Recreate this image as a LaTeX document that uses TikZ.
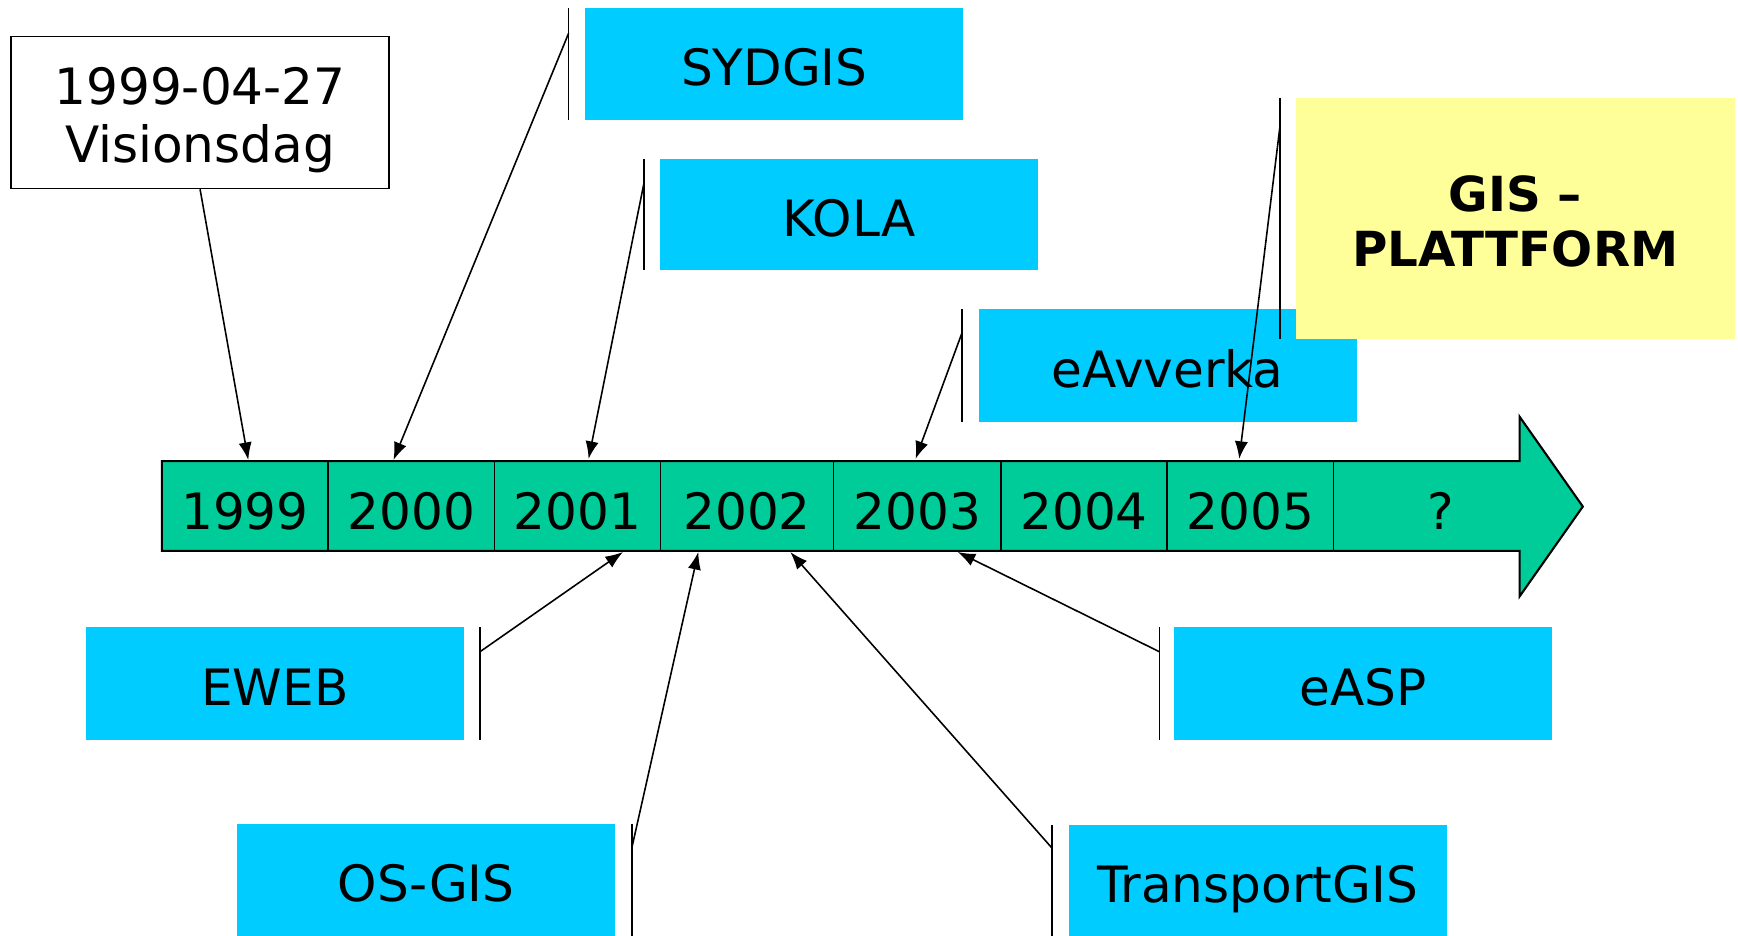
\documentclass[tikz,border=0pt]{standalone}
\usepackage{fontspec}
\setmainfont{DejaVu Sans}
\usetikzlibrary{arrows.meta}
\definecolor{boxcyan}{HTML}{00CCFF}
\definecolor{arrgreen}{HTML}{00CC99}
\definecolor{boxyellow}{HTML}{FFFF99}
\newcommand\fsz{\fontsize{28.5}{33}\selectfont}
\newcommand\fszv{\fontsize{28.5}{32.7}\selectfont}
\newcommand\fszb{\fontsize{27.5}{31.5}\selectfont\bfseries}
\tikzset{
  bluebox/.style={fill=boxcyan, minimum width=341*0.2217mm, minimum height=101*0.2217mm,
    inner sep=0pt, font=\fsz, text height=24.7pt, text depth=0pt},
  yearlbl/.style={font=\fsz, inner sep=0pt, text height=24.7pt, text depth=0pt},
  bracket/.style={line width=0.9pt},
  conn/.style={line width=0.9pt, -{Latex[length=10pt,width=7.5pt]}},
}
\begin{document}
\begin{tikzpicture}[x=0.2217mm, y=-0.2217mm]
\useasboundingbox (0,0) rectangle (1568,843.6);
% timeline arrow
\draw[fill=arrgreen, line width=1.2pt] (146,416) -- (1371,416) -- (1371,376) -- (1428,457)
  -- (1371,538) -- (1371,497) -- (146,497) -- cycle;
\foreach \x in {296,446,596,752,903,1053,1203}
  \draw[line width=0.9pt] (\x,416) -- (\x,497);
\node[yearlbl] (y1999) at (221,458) {1999};
\node[yearlbl] (y2000) at (371,458) {2000};
\node[yearlbl] (y2001) at (521,458) {2001};
\node[yearlbl] (y2002) at (674,458) {2002};
\node[yearlbl] (y2003) at (827.5,458) {2003};
\node[yearlbl] (y2004) at (978,458) {2004};
\node[yearlbl] (y2005) at (1128,458) {2005};
\node[yearlbl] (yq) at (1300,458) {?};
% boxes
\node[draw, fill=white, line width=0.9pt, minimum width=341*0.2217mm, minimum height=137*0.2217mm,
  inner sep=0pt] (vis) at (180.5,101.5) {};
\node[align=center, font=\fszv, inner sep=0pt] (vistext) at (180.5,108.5) {1999-04-27\\Visionsdag};
\node[bluebox] (syd) at (698.5,57.5) {SYDGIS};
\node[bluebox] (kola) at (766,193.5) {KOLA};
\node[bluebox, minimum height=102*0.2217mm] (eavv) at (1053.5,330) {eAvverka};
\node[fill=boxyellow, minimum width=396*0.2217mm, minimum height=218*0.2217mm, inner sep=0pt] (gis) at (1367,197) {};
\node[align=center, font=\fszb, inner sep=0pt] (gistext) at (1367,199.5) {GIS –\\PLATTFORM};
\node[bluebox, minimum height=102*0.2217mm] (eweb) at (248,617) {EWEB};
\node[bluebox] (osgis) at (384.5,793.5) {OS-GIS};
\node[bluebox] (tgis) at (1134.5,794.5) {TransportGIS};
\node[bluebox, minimum height=102*0.2217mm] (easp) at (1230,617) {eASP};
% brackets
\draw[bracket] (513,7) -- (513,108);
\draw[bracket] (581,143) -- (581,244);
\draw[bracket] (868,279) -- (868,381);
\draw[bracket] (1155,88) -- (1155,306);
\draw[bracket] (433,566) -- (433,668);
\draw[bracket] (570,743) -- (570,845);
\draw[bracket] (949,744) -- (949,845);
\draw[bracket] (1046,566) -- (1046,668);
% connector coordinates
\coordinate (csyd) at (513,30);
\coordinate (ckola) at (581,165);
\coordinate (ceavv) at (868,300);
\coordinate (cgis) at (1155,112);
\coordinate (ceweb) at (433,588);
\coordinate (cos) at (570,765);
\coordinate (ctg) at (949,765);
\coordinate (ceasp) at (1046,588);
\coordinate (t1999) at (224,415);
\coordinate (t2000) at (355,415);
\coordinate (t2001) at (531,414);
\coordinate (t2003) at (826,414);
\coordinate (t2005) at (1118,414);
\coordinate (b2001) at (562,498);
\coordinate (b2002a) at (630,498);
\coordinate (b2002b) at (713,498);
\coordinate (b2003) at (864,498);
% connectors
\draw[conn] (vis.south) -- (t1999);
\draw[conn] (csyd) -- (t2000);
\draw[conn] (ckola) -- (t2001);
\draw[conn] (ceavv) -- (t2003);
\draw[conn] (cgis) -- (t2005);
\draw[conn] (ceweb) -- (b2001);
\draw[conn] (cos) -- (b2002a);
\draw[conn] (ctg) -- (b2002b);
\draw[conn] (ceasp) -- (b2003);
\end{tikzpicture}
\end{document}
